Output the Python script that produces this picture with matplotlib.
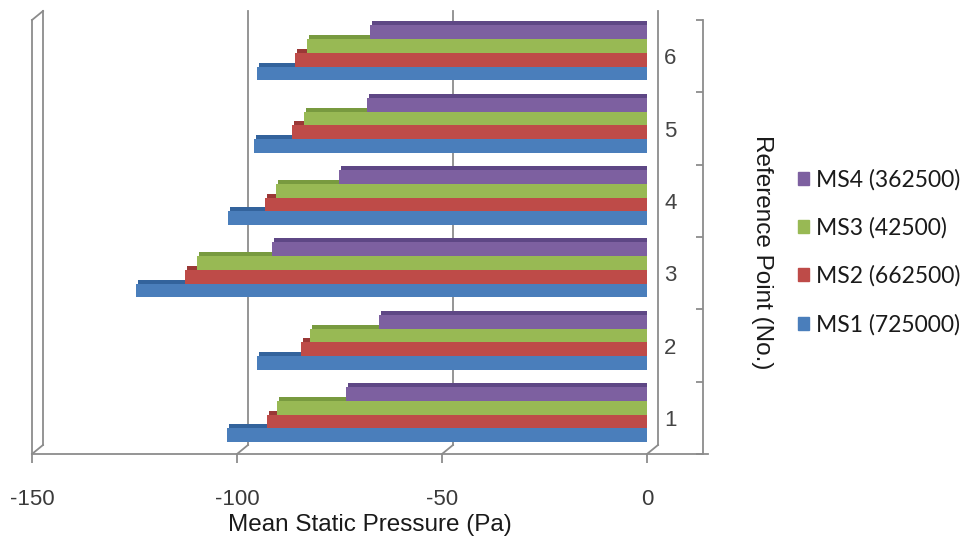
import numpy as np
import matplotlib

matplotlib.use("Agg")
import matplotlib.pyplot as plt
from matplotlib.patches import Patch
from matplotlib.transforms import offset_copy

plt.rcParams["font.family"] = ["Liberation Sans", "DejaVu Sans"]

# data (Pa), reference points 1..6
points = [1, 2, 3, 4, 5, 6]
ms1 = [-102.4, -95.1, -124.6, -102.2, -95.9, -95.1]
ms2 = [-92.7, -84.4, -112.7, -93.2, -86.6, -85.9]
ms3 = [-90.2, -82.2, -109.8, -90.5, -83.7, -82.9]
ms4 = [-73.4, -65.4, -91.5, -75.1, -68.3, -67.6]
names = ["MS1 (725000)", "MS2 (662500)", "MS3 (42500)", "MS4 (362500)"]

colors = ["#4A7EBB", "#BE4B48", "#98B954", "#7D60A0"]
darks = ["#33639C", "#9A3836", "#789A3F", "#5E4785"]
grey = "#8C8C8C"
txt = "#3A3A3A"

W, H = 969, 542
fig = plt.figure(figsize=(W / 100, H / 100), dpi=100)
ax = fig.add_axes([32 / W, 88 / H, 615 / W, 434 / H])
ax.set_xlim(-150, 0)
ax.set_ylim(0.5, 6.5)

pts = np.array(points)
offsets = [-0.24, -0.05, 0.14, 0.33]
h = 0.19
depth = offset_copy(ax.transData, fig=fig, x=2, y=4, units="dots")
side = offset_copy(ax.transData, fig=fig, x=6, y=3, units="dots")
for i, vals in enumerate([ms1, ms2, ms3, ms4]):
    ax.barh(pts + offsets[i], vals, height=h, color=darks[i], transform=depth,
            zorder=2 + 2 * i, linewidth=0)
    ax.barh(pts + offsets[i], [3] * len(vals), left=[-3] * len(vals), height=h,
            color=darks[i], transform=side, zorder=2 + 2 * i, linewidth=0)
    ax.barh(pts + offsets[i], vals, height=h, color=colors[i],
            zorder=3 + 2 * i, linewidth=0)

# 3d frame: back wall shifted by (11, 9) px
bx, by = 11, 9
back = offset_copy(ax.get_xaxis_transform(), fig=fig, x=bx, y=by, units="dots")
ax_px = 615 / 150.0
for xv in [-150, -100, -50, 0]:
    ax.plot([xv, xv], [0, 1], color=grey, lw=1.3, transform=back, zorder=1,
            clip_on=False)
    # floor diagonals from front to back
    ax.plot([xv, xv + bx / ax_px], [0, by / 434], color=grey, lw=1.3,
            transform=ax.get_xaxis_transform(), zorder=1, clip_on=False)
# left wall front edge and top cap
ax.plot([-150, -150], [0, 1], color=grey, lw=1.3,
        transform=ax.get_xaxis_transform(), clip_on=False)
ax.plot([-150, -150 + bx / ax_px], [1, 1 + by / 434], color=grey, lw=1.3,
        transform=ax.get_xaxis_transform(), clip_on=False)
# front floor line
ax.plot([0, 676 / 615], [0, 0], color=grey, lw=1.3, transform=ax.transAxes,
        clip_on=False)

for s in ["left", "top", "bottom"]:
    ax.spines[s].set_visible(False)
ax.spines["right"].set_position(("axes", (703 - 32) / 615))
ax.spines["right"].set_color(grey)
ax.spines["right"].set_linewidth(1.3)

ax.set_xticks([-150, -100, -50, 0])
ax.set_xticklabels(["-150", "-100", "-50", "0"])
ax.tick_params(axis="x", direction="out", length=6.5, width=1.3, color=grey,
               pad=19, labelsize=16, labelcolor=txt)

ax.yaxis.tick_right()
ax.set_yticks(pts)
ax.set_yticks(np.arange(0.5, 6.6, 1.0), minor=True)
ax.tick_params(axis="y", which="major", length=0, pad=-28, labelsize=16,
               labelcolor="#444444")
ax.tick_params(axis="y", which="minor", direction="in", length=5, width=1.3,
               color=grey)

fig.text(370 / W, 1 - 525 / H, "Mean Static Pressure (Pa)", ha="center",
         va="center", fontsize=17.5, color="#1A1A1A")
fig.text(762 / W, 1 - 252 / H, "Reference Point (No.)", rotation=270,
         ha="center", va="center", fontsize=17.5, color="#1A1A1A")

handles = [Patch(color=colors[i], label=names[i]) for i in range(4)][::-1]
fig.legend(handles=handles, loc="center left", frameon=False,
           bbox_to_anchor=(777 / W, 1 - 252 / H),
           prop={"family": "Lato", "size": 16.5},
           labelspacing=1.17, handlelength=0.5, handleheight=0.5,
           handletextpad=0.3, labelcolor="#1A1A1A")

fig.savefig("out.png", dpi=100)
